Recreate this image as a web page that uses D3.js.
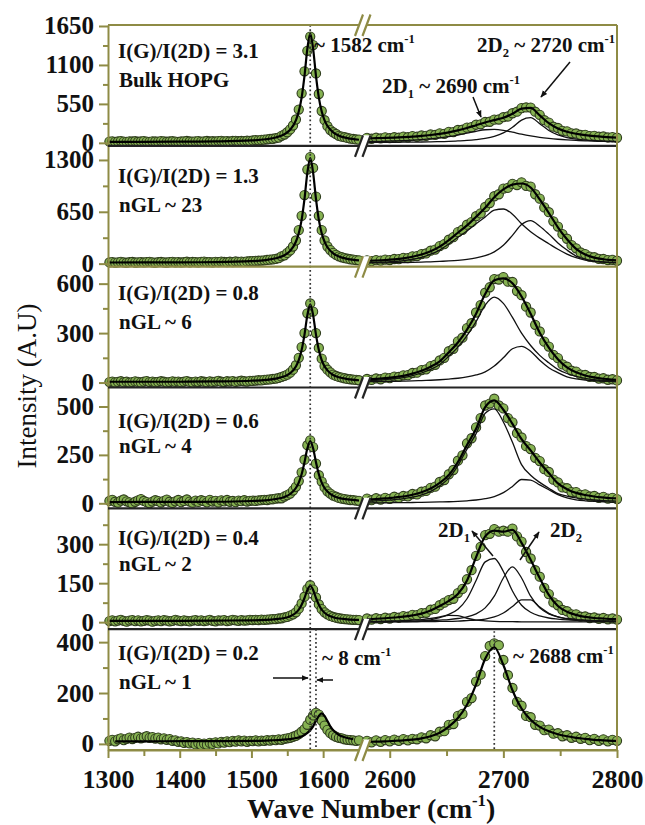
<!DOCTYPE html>
<html><head><meta charset="utf-8">
<script src="https://cdn.jsdelivr.net/npm/d3@7"></script>
<style>
body{margin:0;background:#fff}
svg{display:block}
text{font-family:"Liberation Serif","Times New Roman",serif;white-space:pre}
</style></head>
<body><svg id="c" width="645" height="825"></svg>
<script>
// ---------------- DATA ----------------
const xLeft = d3.range(1302, 1651, 4);      // wavenumbers of the data points, G region
const xRight = d3.range(2580, 2801, 4);     // wavenumbers of the data points, 2D region
const fitXLeft = [1302,1350,1400,1450,1500,1520,1534,1546,1554,1562,1566,1570,1574,1578,1582,1586,1590,1594,1598,1602,1606,1614,1622,1634,1650];
const fitXRight = [2580,2588,2596,2604,2612,2620,2628,2636,2644,2652,2660,2668,2676,2684,2692,2700,2708,2716,2724,2732,2740,2748,2756,2764,2772,2780,2788,2796,2800];

const ratioLabels = ["I(G)/I(2D) = 3.1","I(G)/I(2D) = 1.3","I(G)/I(2D) = 0.8","I(G)/I(2D) = 0.6","I(G)/I(2D) = 0.4","I(G)/I(2D) = 0.2"];
const layerLabels = ["Bulk HOPG","nGL ~ 23","nGL ~ 6","nGL ~ 4","nGL ~ 2","nGL ~ 1"];
const yMaxs = [1664,1477,703,598,438,451];
const yMins = [-42,-38,-30,-26,-27,-24];
const yTicksMajor = [[0,550,1100,1650],[0,650,1300],[0,300,600],[0,250,500],[0,150,300],[0,200,400]];
const yTicksMinor = [[275,825,1375],[325,975],[150,450],[125,375],[75,225,375],[100,300]];
const xTicksLeft = [1300,1400,1500,1600];
const xTicksLeftMinor = [1350,1450,1550];
const xTicksRight = [2600,2700,2800];
const xTicksRightMinor = [2650,2750];

// measured points (circles)
const ptsLeftP1 = [18,22,15,20,25,17,14,21,19,23,16,20,24,18,15,22,19,17,25,21,16,20,23,18,14,19,22,26,20,17,21,24,18,22,27,19,23,20,25,28,22,24,19,26,29,23,27,25,30,28,
 34,38,36,42,45,50,55,58,66,74,
 100,118,150,190,245,330,470,700,1010,1300,1500,1380,980,690,450,320,235,180,150,125,100,88,80,70,60,55,48,45];
const ptsLeftP2 = [15,19,13,17,22,16,12,18,21,14,17,20,15,19,23,16,13,18,21,17,14,19,22,16,20,15,18,24,17,21,19,16,22,25,18,20,17,23,19,26,21,18,24,20,27,23,25,22,28,30,
 32,34,36,39,42,46,50,54,60,68,
 92,104,135,165,215,290,420,600,860,1180,1335,1200,840,600,420,290,215,170,135,110,92,80,70,62,55,50,45,42];
const ptsLeftP3 = [3,6,1,4,8,2,5,0,3,7,4,1,5,9,3,6,2,4,8,5,1,3,7,4,6,2,5,9,4,1,6,3,8,5,2,7,4,6,10,5,3,8,6,9,4,7,11,8,6,10,
 10,12,14,13,16,18,19,22,24,28,
 34,40,48,60,78,105,150,215,300,420,480,430,300,210,145,100,78,62,48,40,34,30,26,22,20,18,16,14];
const ptsLeftP4 = [12,18,8,3,14,20,10,5,-2,8,15,22,12,6,0,9,16,11,4,13,19,8,2,10,17,6,12,20,9,3,14,7,16,11,5,18,9,13,4,15,10,17,8,12,6,14,11,16,9,13,
 14,12,15,16,18,17,20,21,24,26,
 26,35,42,50,66,85,115,160,225,300,325,290,205,145,112,82,62,50,40,34,28,24,22,19,17,16,14,13];
const ptsLeftP5 = [4,7,3,6,9,5,2,6,8,4,7,3,5,8,6,2,5,7,4,8,6,3,5,9,6,4,7,5,3,6,8,5,7,4,6,9,5,3,7,6,8,4,6,9,7,5,8,6,7,9,
 8,9,8,10,9,10,11,12,12,14,
 15,18,20,25,30,38,52,72,98,128,142,125,95,68,50,38,30,24,20,17,15,13,12,11,10,9,9,8];
const ptsLeftP6 = [12,16,10,18,22,15,20,25,19,24,28,22,26,30,24,27,21,25,18,22,16,19,12,14,8,10,4,7,2,5,-2,3,-4,1,-3,4,0,6,2,8,5,10,7,12,9,14,10,13,8,12,
 11,14,10,13,12,15,13,16,15,18,
 16,20,22,24,28,32,38,48,58,75,95,112,122,115,92,72,55,42,34,28,24,22,18,16,15,14,12,14];

const ptsRightP1 = [70,58,72,62,78,66,80,72,88,79,95,86,104,98,118,112,134,128,155,152,182,186,215,222,256,262,295,298,328,330,362,372,418,440,490,500,498,440,395,320,285,228,210,170,162,135,132,112,114,96,100,86,90,76,82,72];
const ptsRightP2 = [40,32,44,38,50,45,58,56,72,70,92,95,120,128,162,176,220,245,300,332,395,425,488,520,595,630,710,760,845,870,940,950,1000,985,1020,975,965,870,815,705,645,530,465,370,312,232,192,140,120,88,80,60,58,45,48,36];
const ptsRightP3 = [22,16,25,20,30,27,36,34,44,45,58,60,76,80,100,108,134,150,190,205,250,272,330,360,425,470,545,578,628,625,640,612,610,555,530,460,425,350,310,248,218,168,148,110,96,72,66,48,46,34,34,24,26,17,20,13];
const ptsRightP4 = [24,16,26,19,28,23,34,28,38,36,48,46,60,64,80,86,110,120,150,172,220,248,310,336,392,440,505,515,540,505,490,440,418,362,340,295,280,235,218,176,162,122,108,82,78,58,58,44,46,35,38,28,33,24,28,22];
const ptsRightP5 = [14,10,15,12,17,14,20,17,23,21,28,27,35,36,48,51,65,75,85,90,112,128,165,200,255,290,335,340,358,348,352,348,360,330,310,270,245,200,175,132,108,76,65,47,42,30,30,21,22,16,18,13,16,11,14,10];
const ptsRightP6 = [12,6,14,8,15,10,17,12,19,14,20,18,26,22,34,30,48,50,75,78,110,118,165,180,245,272,345,385,395,388,330,270,220,165,150,110,105,75,72,54,56,40,42,30,34,24,28,20,24,15,20,12,18,10,16,12];

// fitted G band (sum)
const fitLeftP1 = [14,15,17,21,34,51,76,122,185,318,442,639,945,1331,1542,1331,945,639,442,318,238,148,102,67,44];
const fitLeftP2 = [14,15,16,19,31,45,67,106,160,274,380,549,811,1141,1322,1141,811,549,380,274,206,129,89,59,40];
const fitLeftP3 = [5,5,5,7,11,16,24,38,57,98,136,197,291,409,474,409,291,197,136,98,74,46,32,21,14];
const fitLeftP4 = [6,7,7,8,12,15,22,33,48,79,107,150,212,284,321,284,212,150,107,79,61,39,28,20,14];
const fitLeftP5 = [5,5,5,6,7,9,12,16,23,36,48,67,93,124,140,124,93,67,48,36,28,19,14,11,9];
const fitLeftP6 = [10,10,11,11,12,14,16,19,23,29,35,43,54,69,90,110,120,110,90,69,54,35,26,19,15];

// fitted 2D band (sum)
const fitSumP1 = [63,66,70,75,81,88,98,111,127,148,176,210,249,288,321,355,410,484,493,389,278,203,157,128,109,95,85,78,75];
const fitSumP2 = [35,39,45,54,67,86,114,156,213,294,387,479,587,700,833,930,990,1005,955,805,635,455,305,185,115,75,55,44,40];
const fitSumP3 = [19,22,27,33,41,54,72,96,129,183,243,321,418,537,620,632,602,522,417,302,212,142,92,62,43,31,23,18,16];
const fitSumP4 = [20,22,25,30,35,44,57,76,105,146,213,301,385,497,531,483,410,331,273,211,156,103,73,54,43,35,30,26,25];
const fitSumP5 = [12,13,15,18,21,26,33,45,62,82,108,160,250,330,352,348,355,305,240,170,105,62,40,28,20,16,14,12,12];
const fitSumP6 = [8,9,10,12,14,17,22,30,44,68,102,154,234,335,380,310,211,139,95,67,50,38,30,24,20,16,14,12,11];

// 2D components
const comp2D1P1 = [18,20,23,27,32,38,46,56,70,87,110,136,164,185,189,176,150,122,98,78,63,51,42,35,29,25,22,19,18];
const comp2D2P1 = [5,6,7,8,9,10,12,14,17,21,27,34,46,63,91,140,220,322,355,271,175,112,75,53,39,30,24,19,17];
const comp2D1P2 = [12,15,20,27,38,55,80,118,170,245,330,410,500,585,670,685,620,500,400,320,250,180,120,75,45,28,18,13,11];
const comp2D2P2 = [8,9,10,12,14,16,19,23,28,34,42,54,72,100,148,230,355,490,540,470,370,260,170,95,55,32,22,16,14];
const comp2D1P3 = [12,14,18,23,30,42,58,80,110,160,215,285,370,470,518,480,395,300,225,165,120,80,55,38,26,18,13,10,9];
const comp2D2P3 = [5,6,7,8,9,10,12,14,17,21,26,34,46,65,100,150,205,220,190,135,90,60,35,22,15,11,8,6,5];
const comp2D1P4 = [10,12,15,19,24,32,44,62,90,130,195,280,360,465,488,420,315,200,145,108,78,50,37,28,22,17,14,12,11];
const comp2D2P4 = [2,2,2,3,3,4,5,6,7,8,10,13,17,24,35,55,87,123,120,95,70,45,28,18,13,10,8,6,6];
const comp2D1P5 = [3,3,4,5,6,8,10,14,20,30,50,90,160,232,245,195,120,65,38,24,16,12,9,7,6,5,4,4,3];
const comp2D2P5 = [2,2,2,3,3,4,5,6,8,10,14,20,32,55,100,170,213,170,100,55,32,20,14,10,8,6,5,4,4];
const compLowP5 = [1,1,1,2,2,3,5,9,17,26,25,15,8,5,3,2,2,1,1,1,1,1,1,1,1,1,1,1,1];
const compHighP5 = [1,1,1,1,1,1,2,2,3,3,4,6,8,12,20,35,60,86,86,58,34,20,12,8,6,4,3,3,2];

const ptsLeft = [ptsLeftP1,ptsLeftP2,ptsLeftP3,ptsLeftP4,ptsLeftP5,ptsLeftP6];
const ptsRight = [ptsRightP1,ptsRightP2,ptsRightP3,ptsRightP4,ptsRightP5,ptsRightP6];
const fitLeft = [fitLeftP1,fitLeftP2,fitLeftP3,fitLeftP4,fitLeftP5,fitLeftP6];
const fitSum = [fitSumP1,fitSumP2,fitSumP3,fitSumP4,fitSumP5,fitSumP6];
const comps = [[comp2D1P1,comp2D2P1],[comp2D1P2,comp2D2P2],[comp2D1P3,comp2D2P3],[comp2D1P4,comp2D2P4],[comp2D1P5,comp2D2P5,compLowP5,compHighP5],[]];
const gShiftP6 = 1590, gPeak = 1582, peak2DP6 = 2692;

// ---------------- LAYOUT ----------------
const svg = d3.select("#c");
const L = 108, R = 617, T = 25, B = 750, PH = (B - T) / 6;
const BRK1 = 359, BRK2 = 367;
const OLIVE = "#8e8b45", DARK = "#242424";
const FONT = '"Liberation Serif","Times New Roman",serif';

const xL = d3.scaleLinear().domain([1300,1650]).range([L, BRK1]);
const xR = d3.scaleLinear().domain([2580,2800]).range([BRK2, R]);

svg.append("defs").append("marker").attr("id","ah").attr("viewBox","0 0 10 10")
  .attr("refX",9).attr("refY",5).attr("markerWidth",7).attr("markerHeight",7)
  .attr("orient","auto").attr("markerUnits","userSpaceOnUse")
  .append("path").attr("d","M0,1 L10,5 L0,9 Z").attr("fill","#111");

const gData = svg.append("g");
const gLines = svg.append("g");
const gFrame = svg.append("g");

const ys = [];
for (let i = 0; i < 6; i++) {
  const top = T + i * PH, bot = top + PH;
  const y = d3.scaleLinear().domain([yMins[i], yMaxs[i]]).range([bot, top]);
  ys.push(y);
  const pts = xLeft.map((x, k) => [xL(x), y(ptsLeft[i][k])])
    .concat(xRight.map((x, k) => [xR(x), y(ptsRight[i][k])]));
  gData.selectAll(null).data(pts).enter().append("circle")
    .attr("cx", d => d[0]).attr("cy", d => d[1]).attr("r", 4.6)
    .attr("fill", "#86b252").attr("stroke", "#2f3d1d").attr("stroke-width", 1.1);

  const lineL = d3.line().x(d => xL(d[0] + (i === 5 ? gShiftP6 - gPeak : 0))).y(d => y(d[1])).curve(d3.curveMonotoneX);
  const lineR = d3.line().x(d => xR(d[0])).y(d => y(d[1])).curve(d3.curveMonotoneX);
  comps[i].forEach(c => {
    gLines.append("path").attr("d", lineR(fitXRight.map((x, k) => [x, c[k]])))
      .attr("fill","none").attr("stroke","#111").attr("stroke-width",1.3);
  });
  gLines.append("path").attr("d", lineR(fitXRight.map((x, k) => [x, fitSum[i][k]])))
    .attr("fill","none").attr("stroke","#000").attr("stroke-width",2.2);
  const fl = fitXLeft.map((x, k) => [x, fitLeft[i][k]]).filter(d => d[0] + (i === 5 ? 8 : 0) <= 1650);
  gLines.append("path").attr("d", lineL(fl))
    .attr("fill","none").attr("stroke","#000").attr("stroke-width",2.2);

  // y axes
  const ax = gFrame.append("g").attr("transform", `translate(${L},0)`)
    .call(d3.axisLeft(y).tickValues(yTicksMajor[i]).tickSize(9).tickSizeOuter(0).tickPadding(5).tickFormat(d3.format("d")));
  ax.select(".domain").attr("stroke", OLIVE).attr("stroke-width", 2);
  ax.selectAll(".tick line").attr("stroke", OLIVE).attr("stroke-width", 2);
  ax.selectAll(".tick text").attr("font-family", FONT).attr("font-size", 25).attr("font-weight", "bold").attr("fill","#111");
  const axm = gFrame.append("g").attr("transform", `translate(${L},0)`)
    .call(d3.axisLeft(y).tickValues(yTicksMinor[i]).tickSize(5).tickFormat(""));
  axm.select(".domain").remove();
  axm.selectAll(".tick line").attr("stroke", OLIVE).attr("stroke-width", 2);

  // labels
  const lo = [[33,62],[37,66],[33,62],[40,65],[37,63],[31,60]][i];
  gFrame.append("text").attr("x",118).attr("y",top+lo[0]).attr("font-size",21).attr("font-weight","bold").attr("fill","#111").text(ratioLabels[i]);
  gFrame.append("text").attr("x",119).attr("y",top+lo[1]).attr("font-size",21).attr("font-weight","bold").attr("fill","#111").text(layerLabels[i]);
}

// dotted reference lines
const dotted = (x, y1, y2) => gFrame.append("line").attr("x1",x).attr("x2",x).attr("y1",y1).attr("y2",y2)
  .attr("stroke","#333").attr("stroke-width",1.7).attr("stroke-dasharray","1.7,2.6");
dotted(xL(gPeak), T, B);
dotted(xL(gShiftP6), T + 5 * PH, B);
dotted(xR(peak2DP6), T + 5 * PH + 2, B);

// boundaries and frame
const bounds = d3.range(7).map(i => T + i * PH);
const bColor = [OLIVE, DARK, OLIVE, DARK, DARK, DARK, OLIVE];
bounds.forEach((by, i) => {
  [[L, BRK1], [BRK2, R]].forEach(s => {
    gFrame.append("line").attr("x1", s[0]).attr("x2", s[1]).attr("y1", by).attr("y2", by)
      .attr("stroke", bColor[i]).attr("stroke-width", 2.2);
  });
});
gFrame.append("line").attr("x1",R).attr("x2",R).attr("y1",T).attr("y2",B).attr("stroke",OLIVE).attr("stroke-width",2);

// bottom axes
function bottomAxis(scale, major, minor) {
  const a = gFrame.append("g").attr("transform", `translate(0,${B})`)
    .call(d3.axisBottom(scale).tickValues(major).tickSize(8).tickSizeOuter(0).tickFormat(d3.format("d")));
  a.select(".domain").attr("stroke", OLIVE).attr("stroke-width", 2.2);
  a.selectAll(".tick line").attr("stroke", OLIVE).attr("stroke-width", 2);
  a.selectAll(".tick text").attr("y", 20).attr("font-family", FONT).attr("font-size", 26).attr("font-weight","bold").attr("fill","#111");
  const m = gFrame.append("g").attr("transform", `translate(0,${B})`)
    .call(d3.axisBottom(scale).tickValues(minor).tickSize(6).tickFormat(""));
  m.select(".domain").remove();
  m.selectAll(".tick line").attr("stroke", OLIVE).attr("stroke-width", 2);
}
bottomAxis(xL, xTicksLeft, xTicksLeftMinor);
bottomAxis(xR, xTicksRight, xTicksRightMinor);

// break marks
bounds.forEach((by, i) => {
  const c = bColor[i];
  gFrame.append("path").attr("d", `M${BRK1-3.5},${by+11} L${BRK1+4},${by-10.5} L${BRK2+3.5},${by-10.5} L${BRK2-4},${by+11} Z`).attr("fill","#fff");
  [BRK1, BRK2 - 0.5].forEach(cx => {
    gFrame.append("line").attr("x1", cx - 4).attr("y1", by + 11).attr("x2", cx + 4).attr("y2", by - 10.5)
      .attr("stroke", c).attr("stroke-width", 2.2);
  });
});

// rich text helper
function rich(x, y, parts, fs) {
  const t = gFrame.append("text").attr("x", x).attr("y", y).attr("font-size", fs).attr("font-weight","bold").attr("fill","#111");
  let shift = 0;
  parts.forEach(p => {
    const target = p.sup ? -fs * 0.42 : p.sub ? fs * 0.25 : 0;
    t.append("tspan").attr("dy", target - shift).attr("font-size", (p.sup || p.sub) ? fs * 0.6 : fs).text(p.t);
    shift = target;
  });
  return t;
}
rich(314, 52, [{t:"~ 1582 cm"},{t:"-1",sup:true}], 21);
rich(477, 52, [{t:"2D"},{t:"2",sub:true},{t:" ~ 2720 cm"},{t:"-1",sup:true}], 21);
rich(382, 93, [{t:"2D"},{t:"1",sub:true},{t:" ~ 2690 cm"},{t:"-1",sup:true}], 21);
rich(438, 537, [{t:"2D"},{t:"1",sub:true}], 21);
rich(550, 537, [{t:"2D"},{t:"2",sub:true}], 21);
rich(322, 665, [{t:"~ 8 cm"},{t:"-1",sup:true}], 21);
rich(513, 663, [{t:"~ 2688 cm"},{t:"-1",sup:true}], 21);

const arrow = (x1, y1, x2, y2) => gFrame.append("line").attr("x1",x1).attr("y1",y1).attr("x2",x2).attr("y2",y2)
  .attr("stroke","#111").attr("stroke-width",1.5).attr("marker-end","url(#ah)");
arrow(473, 97, 481, 117);
arrow(570, 62, 541, 97);
arrow(493, 556, 472, 531);
arrow(520, 560, 539, 532);
arrow(273, 678, 308, 678);
arrow(333, 680, 317, 680);

// axis titles
gFrame.append("text").attr("transform","translate(36,386) rotate(-90)").attr("text-anchor","middle")
  .attr("font-size",27).attr("fill","#111").text("Intensity (A.U)");
rich(247, 818, [{t:"Wave Number (cm"},{t:"-1",sup:true},{t:")"}], 28);
</script></body></html>
